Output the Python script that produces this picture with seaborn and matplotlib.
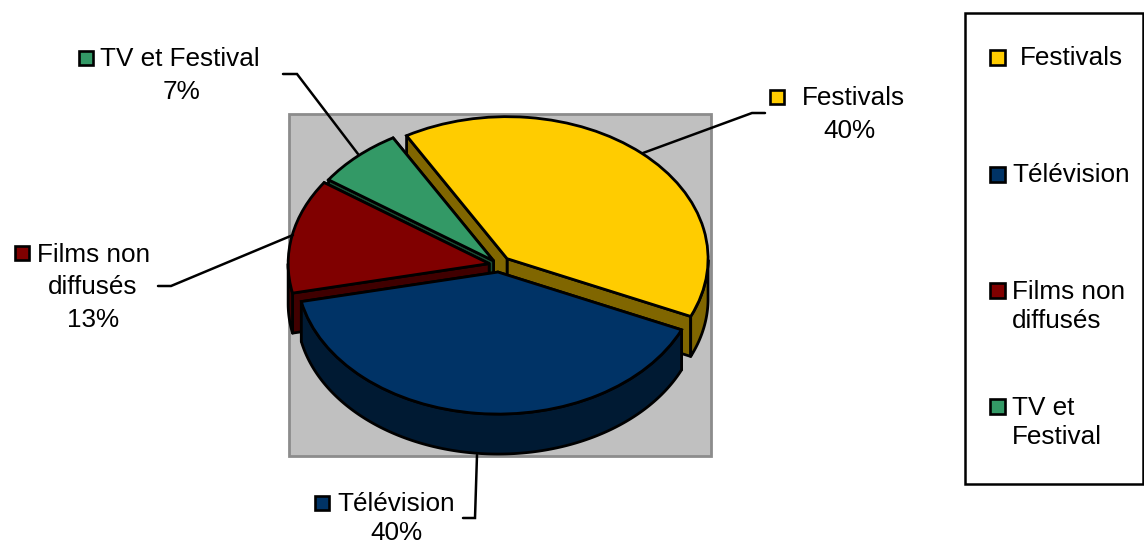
import numpy as np
import matplotlib
matplotlib.use("Agg")
import matplotlib.pyplot as plt
from matplotlib.patches import Polygon, Rectangle
import seaborn as sns

categories = ["Festivals", "Télévision", "Films non diffusés", "TV et Festival"]
values = [40, 40, 13, 7]
face_colors = ["#FFCC00", "#003366", "#800000", "#339966"]
side_colors = ["#806600", "#001A33", "#400000", "#1A4D33"]

sns.set_theme(style="white")
plt.rcParams["font.family"] = ["Liberation Sans", "DejaVu Sans"]

W, H = 1144, 545
CX, CY, RX, RY = 499, 265, 201, 142
DEPTH = 40 / RY
FS = 18.8
LW = 2.0

fig = plt.figure(figsize=(W / 100, H / 100), dpi=100, facecolor="white")
ax = fig.add_axes([0, 0, 1, 1], zorder=1)
px = fig.add_axes([0, 0, 1, 1], zorder=2)
px.set_xlim(0, W)
px.set_ylim(H, 0)
px.axis("off")

wedges, _ = ax.pie(
    values,
    colors=sns.color_palette(face_colors),
    explode=[0.06, 0.05, 0.05, 0.04],
    startangle=120,
    counterclock=False,
    wedgeprops=dict(edgecolor="black", linewidth=LW, joinstyle="miter"),
)
ax.set_aspect("auto")
ax.set_xlim(-CX / RX, (W - CX) / RX)
ax.set_ylim(-(H - CY) / RY, CY / RY)
ax.axis("off")
ax.patch.set_visible(False)

# plot wall behind the pie
ax.add_patch(Rectangle((289, 114), 422, 342, transform=px.transData,
                       facecolor="#C0C0C0", edgecolor="#8C8C8C", linewidth=2.0, zorder=0))

# extrude each slice: order is back to front
draw_order = [0, 3, 2, 1]
for rank, i in enumerate(draw_order):
    w = wedges[i]
    cx, cy = w.center
    t = np.radians(np.linspace(w.theta1, w.theta2, 240))
    arc_x, arc_y = cx + w.r * np.cos(t), cy + w.r * np.sin(t)
    z = 3 * rank + 1
    side = dict(facecolor=side_colors[i], edgecolor="black", linewidth=LW, joinstyle="round")
    for ex, ey in ((arc_x[0], arc_y[0]), (arc_x[-1], arc_y[-1])):
        ax.add_patch(Polygon([(cx, cy), (ex, ey), (ex, ey - DEPTH), (cx, cy - DEPTH)],
                             closed=True, zorder=z, **side))
    front = np.sin(t) <= 0  # only the near part of the rim shows
    if front.sum() > 1:
        fx, fy = arc_x[front], arc_y[front]
        rim = np.r_[np.c_[fx, fy], np.c_[fx, fy - DEPTH][::-1]]
        ax.add_patch(Polygon(rim, closed=True, zorder=z + 1, **side))
    w.set_zorder(z + 2)


def swatch(x, y, color, s=14):
    px.add_patch(Rectangle((x - s / 2, y - s / 2), s, s, facecolor=color,
                           edgecolor="black", linewidth=1.9))


def label(x, y, s, ha="center"):
    px.text(x, y, s, ha=ha, va="center", fontsize=FS, color="black")


# data labels
swatch(777, 97, face_colors[0])
label(802, 98, categories[0], "left")
label(849, 131, f"{values[0]}%")

swatch(322, 503, face_colors[1])
label(337, 504, categories[1], "left")
label(396, 533, f"{values[1]}%")

swatch(22, 253, face_colors[2])
label(37, 255, "Films non", "left")
label(93, 287, "diffusés")
label(93, 320, f"{values[2]}%")

swatch(86, 58, face_colors[3])
label(100, 59, categories[3], "left")
label(181, 92, f"{values[3]}%")

# leader lines
leaders = [
    [(643, 153), (752, 113), (765, 113)],
    [(477, 455), (475, 518), (463, 518)],
    [(293, 235), (171, 286), (158, 286)],
    [(358, 154), (297, 74), (283, 74)],
]
for pts in leaders:
    xs, ys = zip(*pts)
    px.plot(xs, ys, color="black", lw=1.8, solid_joinstyle="miter")

# legend box
px.add_patch(Rectangle((965, 13), 178, 471, facecolor="white", edgecolor="black", linewidth=1.8))
swatch(997, 57, face_colors[0], 15)
label(1020, 58, categories[0], "left")
swatch(997, 174, face_colors[1], 15)
label(1012, 175, categories[1], "left")
swatch(997, 290, face_colors[2], 15)
label(1012, 292, "Films non", "left")
label(1012, 321, "diffusés", "left")
swatch(997, 406, face_colors[3], 15)
label(1012, 408, "TV et", "left")
label(1012, 437, "Festival", "left")

fig.savefig("out.png", dpi=100)
